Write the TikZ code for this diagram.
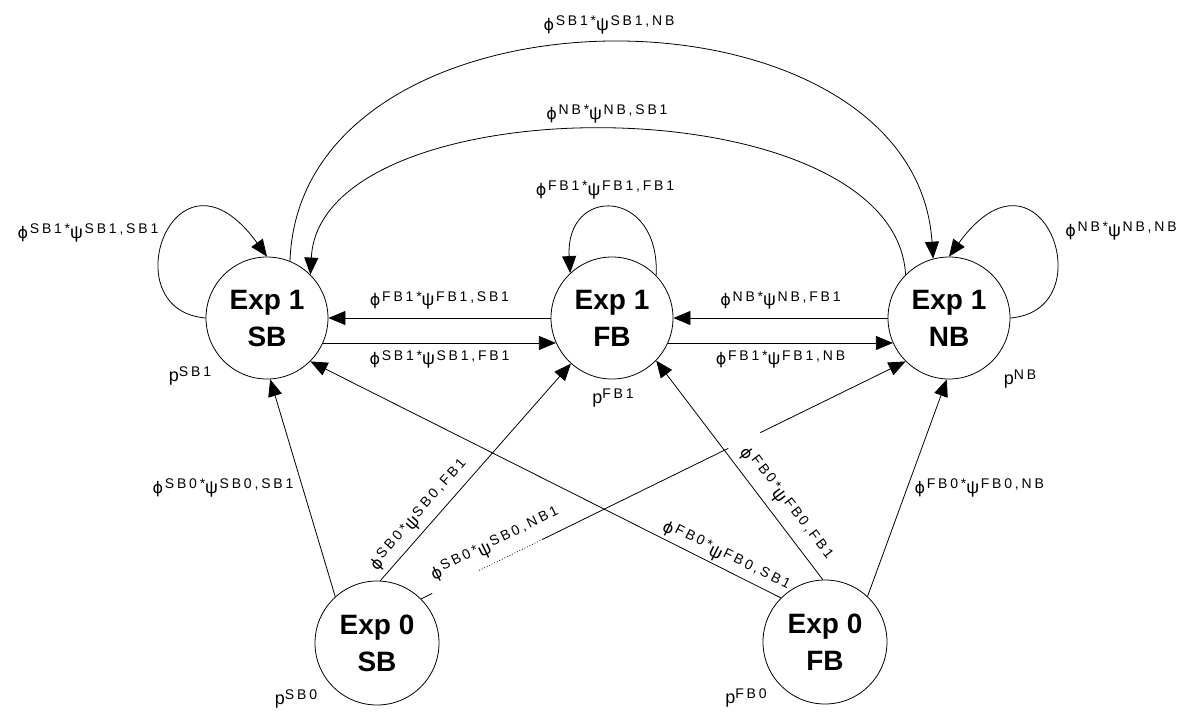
\documentclass[tikz,border=0pt]{standalone}
\usepackage{fontspec}
\setmainfont{Liberation Sans}
\newfontfamily\supfamily[LetterSpace=20]{Liberation Sans}
\newfontfamily\phifamily{DejaVu Sans}
\usetikzlibrary{arrows.meta}
\newcommand\gkf{\fontsize{18}{18}\selectfont}
\newcommand\phif{\phifamily\fontsize{16}{16}\selectfont}
\newcommand\supf{\supfamily\fontsize{14}{14}\selectfont}
\newcommand\rt[2]{{\phif ϕ}\,\raisebox{4.5pt}{\supf #1*}{\gkf ψ}\,\raisebox{4.5pt}{\supf #2}}
\newcommand\prb[1]{{\gkf p}\raisebox{5pt}{\supf #1}}
\begin{document}
\begin{tikzpicture}[x=1pt,y=-1pt,
  st/.style={circle,draw,line width=0.8pt,minimum size=122pt,inner sep=0pt,align=center,
             font=\fontsize{28}{37}\selectfont\bfseries},
  arr/.style={line width=0.8pt,-{Triangle[length=17pt,width=14pt]}},
  ln/.style={line width=0.8pt},
  dl/.style={line width=0.8pt,dotted},
  lab/.style={inner sep=1pt}]
\useasboundingbox (0,0) rectangle (1195,716);
\node[st] (SB) at (267,318) {Exp 1\\SB};
\node[st] (FB) at (612,318) {Exp 1\\FB};
\node[st] (NB) at (949,318) {Exp 1\\NB};
\node[st,minimum size=124pt] (SB0) at (377,643) {Exp 0\\SB};
\node[st,minimum size=124pt] (FB0) at (825,642) {Exp 0\\FB};
% horizontal connectors
\draw[arr] (FB.west) -- node[lab,above=7pt]{\rt{FB1}{FB1,SB1}} (SB.east);
\draw[arr] (SB.-24) -- node[lab,below=6pt]{\rt{SB1}{SB1,FB1}} (FB.204);
\draw[arr] (NB.west) -- node[lab,above=7pt]{\rt{NB}{NB,FB1}} (FB.east);
\draw[arr] (FB.-24) -- node[lab,below=6pt]{\rt{FB1}{FB1,NB}} (NB.204);
% self loops
\draw[arr] (SB.180) .. controls +(-96,-8) and +(-92,-127) .. (SB.90);
\node[lab] (lSS) at (88,233) {\rt{SB1}{SB1,SB1}};
\draw[arr] (FB.44) .. controls +(4,-88) and +(-5,-88) .. (FB.133);
\node[lab] (lFF) at (605,190) {\rt{FB1}{FB1,FB1}};
\draw[arr] (NB.0) .. controls +(96,-8) and +(92,-127) .. (NB.90);
\node[lab] (lNN) at (1121,231) {\rt{NB}{NB,NB}};
% top arcs
\draw[arr] (SB.68) .. controls +(10,-290) and +(-19,-288) .. (NB.105);
\node[lab] (lSN) at (609,25) {\rt{SB1}{SB1,NB}};
\draw[arr] (NB.135) .. controls +(-11,-193) and +(10,-193) .. (SB.45);
\node[lab] (lNS) at (607,114) {\rt{NB}{NB,SB1}};
% from Exp 0 SB
\draw[arr] (SB0.132) -- node[lab,pos=0.5,left=8pt]{\rt{SB0}{SB0,SB1}} (SB.-87);
\draw[arr] (SB0.87) -- node[lab,pos=0.26,sloped,above=3pt]{\rt{SB0}{SB0,FB1}} (FB.228);
\path (SB0.45) -- (NB.225.6)
  coordinate[pos=0.023] (c1) coordinate[pos=0.12] (c2) coordinate[pos=0.25] (c3)
  coordinate[pos=0.634] (c4) coordinate[pos=0.70] (c5)
  node[lab,pos=0.168,sloped,above=6pt]{\rt{SB0}{SB0,NB1}};
\draw[ln] (SB0.45) -- (c1);
\draw[dl] (c2) -- (c3);
\draw[ln] (c3) -- (c4);
\draw[arr] (c5) -- (NB.225.6);
% from Exp 0 FB
\draw[arr] (FB0.135) -- node[lab,pos=0.128,sloped,above=1pt]{\rt{FB0}{FB0,SB1}} (SB.-45.6);
\draw[arr] (FB0.92) -- node[lab,pos=0.30,sloped,above=6pt]{\rt{FB0}{FB0,FB1}} (FB.-44.4);
\draw[arr] (FB0.47.5) -- node[lab,pos=0.5,right=6pt]{\rt{FB0}{FB0,NB}} (NB.-92);
% p labels
\node[lab] (pSB) at (190,376) {\prb{SB1}};
\node[lab] (pFB) at (613,398) {\prb{FB1}};
\node[lab] (pNB) at (1020,379) {\prb{NB}};
\node[lab] (pSB0) at (296,699) {\prb{SB0}};
\node[lab] (pFB0) at (746,698) {\prb{FB0}};
\end{tikzpicture}
\end{document}
